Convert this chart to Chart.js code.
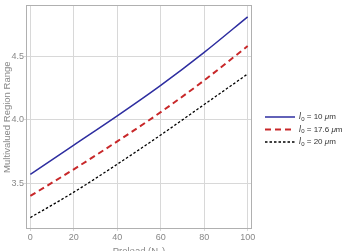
<!DOCTYPE html>
<html><head><meta charset="utf-8">
<script src="https://cdn.jsdelivr.net/npm/chart.js@4/dist/chart.umd.min.js"></script>
<style>html,body{margin:0;padding:0;background:#fff}#c{display:block}</style>
</head><body>
<canvas id="c" width="347" height="251"></canvas>
<script>
const preload = [0, 20, 40, 60, 80, 100];
const l0_10 = [3.57, 3.80, 4.03, 4.27, 4.53, 4.81];
const l0_176 = [3.40, 3.61, 3.83, 4.06, 4.31, 4.58];
const l0_20 = [3.23, 3.43, 3.65, 3.88, 4.12, 4.36];
const xTicks = [0, 20, 40, 60, 80, 100];
const yTicks = [3.5, 4.0, 4.5];
const legendLabels = ['10', '17.6', '20'];

const FONT = '"Liberation Sans", Arial, sans-serif';
const series = [
  {data: l0_10, color: '#2e2ea0', width: 1.5, dash: []},
  {data: l0_176, color: '#c8282a', width: 2, dash: [6, 4]},
  {data: l0_20, color: '#000000', width: 1.3, dash: [2.5, 2]}
];

const legendPlugin = {
  id: 'customLegend',
  afterDraw(chart) {
    const ctx = chart.ctx;
    const a = chart.chartArea;
    ctx.save();
    ctx.strokeStyle = '#b0b0b0';
    ctx.lineWidth = 1;
    ctx.setLineDash([]);
    ctx.strokeRect(Math.round(a.left) + 0.5, Math.round(a.top) + 0.5, Math.round(a.right - a.left) - 1, Math.round(a.bottom - a.top) - 1);
    const x0 = 265, x1 = 295, tx = 299;
    const ys = [117, 129.5, 142];
    series.forEach((s, i) => {
      const y = ys[i];
      ctx.strokeStyle = s.color;
      ctx.lineWidth = s.width;
      ctx.setLineDash(s.dash);
      ctx.beginPath(); ctx.moveTo(x0, y); ctx.lineTo(x1, y); ctx.stroke();
      ctx.setLineDash([]);
      ctx.fillStyle = '#333';
      ctx.textBaseline = 'middle';
      let x = tx;
      ctx.font = 'italic 8.5px ' + FONT;
      ctx.fillText('l', x, y); x += ctx.measureText('l').width + 0.3;
      ctx.font = '6px ' + FONT;
      ctx.fillText('0', x, y + 2.2); x += ctx.measureText('0').width;
      ctx.font = '8px ' + FONT;
      const t = ' = ' + legendLabels[i] + ' ';
      ctx.fillText(t, x, y); x += ctx.measureText(t).width;
      ctx.font = 'italic 8px ' + FONT;
      ctx.fillText('\u03bc', x, y); x += ctx.measureText('\u03bc').width;
      ctx.font = '8px ' + FONT;
      ctx.fillText('m', x, y);
    });
    ctx.restore();
  }
};

new Chart(document.getElementById('c'), {
  type: 'line',
  data: {
    datasets: series.map((s, i) => ({
      label: 'l0 = ' + legendLabels[i] + ' μm',
      data: preload.map((p, j) => ({x: p, y: s.data[j]})),
      borderColor: s.color,
      borderWidth: s.width,
      borderDash: s.dash,
      pointRadius: 0,
      cubicInterpolationMode: 'monotone',
      fill: false
    }))
  },
  options: {
    responsive: false,
    animation: false,
    layout: {padding: {left: 0, right: 95, top: 4, bottom: 0}},
    plugins: {legend: {display: false}, tooltip: {enabled: false}},
    scales: {
      x: {
        type: 'linear', min: -2, max: 102,
        afterBuildTicks: ax => { ax.ticks = xTicks.map(v => ({value: v})); },
        afterFit: ax => { ax.height = 22; },
        grid: {color: '#d8d8d8', lineWidth: 1, drawTicks: true, tickLength: 2},
        border: {display: false},
        ticks: {color: '#888', font: {size: 9, family: FONT}, padding: 1, maxRotation: 0},
        title: {display: true, text: 'Preload (Nₚ)', color: '#888', font: {size: 9.5, family: FONT}, padding: {top: 0, bottom: -6}}
      },
      y: {
        type: 'linear', min: 3.14, max: 4.9,
        afterBuildTicks: ax => { ax.ticks = yTicks.map(v => ({value: v})); },
        afterFit: ax => { ax.width = 26; },
        grid: {color: '#d8d8d8', lineWidth: 1, drawTicks: true, tickLength: 2},
        border: {display: false},
        ticks: {color: '#888', font: {size: 9, family: FONT}, padding: 0, callback: v => v.toFixed(1)},
        title: {display: true, text: 'Multivalued Region Range', color: '#888', font: {size: 9.5, family: FONT}, padding: {top: 2, bottom: 0}}
      }
    }
  },
  plugins: [legendPlugin]
});
</script>
</body></html>
